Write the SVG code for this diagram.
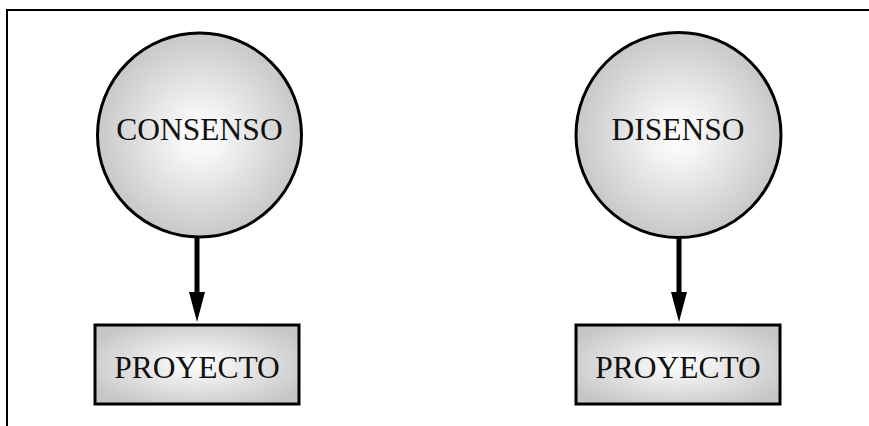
<svg xmlns="http://www.w3.org/2000/svg" width="869" height="426" viewBox="0 0 869 426">
  <style>
    .frame { fill: none; stroke: #000; stroke-width: 2; }
    .circle { fill: url(#ballFill); stroke: #000; stroke-width: 3; }
    .box { fill: url(#boxFill); stroke: #000; stroke-width: 3; }
    .label { font-family: "Liberation Serif", "Times New Roman", serif; font-size: 31.5px; fill: #111; text-anchor: middle; }
    .link { stroke: #000; stroke-width: 5; fill: none; }
    .head { fill: #000; }
  </style>
  <defs>
    <radialGradient id="ballFill" cx="50%" cy="50%" r="50%">
      <stop offset="0" stop-color="#ffffff"/>
      <stop offset="0.25" stop-color="#f4f4f4"/>
      <stop offset="1" stop-color="#c8c8c8"/>
    </radialGradient>
    <radialGradient id="boxFill" cx="50%" cy="50%" r="60%">
      <stop offset="0" stop-color="#ffffff"/>
      <stop offset="1" stop-color="#c6c6c6"/>
    </radialGradient>
  </defs>

  <!-- page frame: top and left rules -->
  <path class="frame" d="M7 426 V10 H869"/>

  <g id="connectors">
    <line class="link" x1="197" y1="237" x2="197" y2="294"/>
    <polygon class="head" points="189,292 205,292 197,322"/>
    <line class="link" x1="679" y1="237" x2="679" y2="294"/>
    <polygon class="head" points="671,292 687,292 679,322"/>
  </g>

  <g id="consenso">
    <circle class="circle" cx="199.5" cy="135" r="102"/>
    <text class="label" x="199.5" y="139.5">CONSENSO</text>
  </g>

  <g id="disenso">
    <circle class="circle" cx="678.5" cy="135" r="102.5"/>
    <text class="label" x="678" y="139.5">DISENSO</text>
  </g>

  <g id="proyecto-1">
    <rect class="box" x="95" y="325" width="204" height="79"/>
    <text class="label" x="197" y="378">PROYECTO</text>
  </g>

  <g id="proyecto-2">
    <rect class="box" x="576" y="325" width="204" height="79"/>
    <text class="label" x="678" y="378">PROYECTO</text>
  </g>
</svg>
